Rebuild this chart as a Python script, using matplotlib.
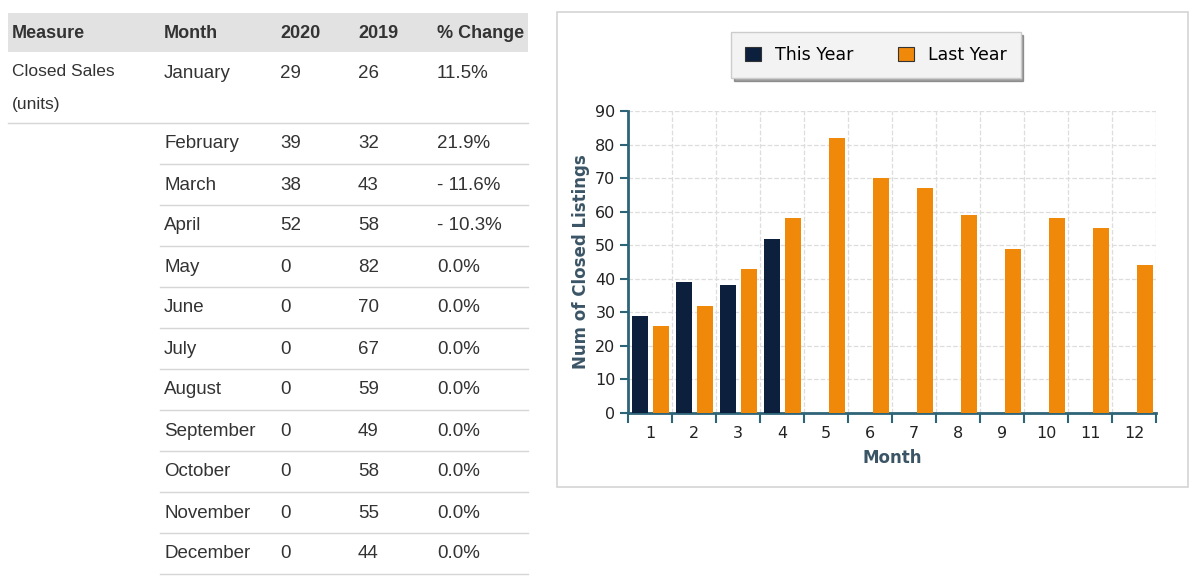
import matplotlib.pyplot as plt
from matplotlib.patches import Rectangle
from matplotlib.lines import Line2D

# Datos
meses = ["January", "February", "March", "April", "May", "June", "July",
         "August", "September", "October", "November", "December"]
num_mes = list(range(1, 13))
ventas_2020 = [29, 39, 38, 52, 0, 0, 0, 0, 0, 0, 0, 0]
ventas_2019 = [26, 32, 43, 58, 82, 70, 67, 59, 49, 58, 55, 44]
cambio = ["11.5%", "21.9%", "- 11.6%", "- 10.3%", "0.0%", "0.0%", "0.0%",
          "0.0%", "0.0%", "0.0%", "0.0%", "0.0%"]
encabezados = ["Measure", "Month", "2020", "2019", "% Change"]

W, H = 1200, 586
fig = plt.figure(figsize=(12, 5.86), dpi=100)

# ======================
# Tabla (coordenadas en pixeles)
# ======================
tab = fig.add_axes([0, 0, 1, 1])
tab.set_xlim(0, W)
tab.set_ylim(H, 0)
tab.axis("off")

fuente_tabla = ["Liberation Sans", "DejaVu Sans"]
col_x = [12, 164, 280, 358, 437]
tab.add_patch(Rectangle((8, 13), 520, 39, facecolor="#e2e2e2", edgecolor="none"))
for x, txt in zip(col_x, encabezados):
    tab.text(x, 33, txt, fontsize=13, fontweight="bold", color="#333333",
             va="center", ha="left", family=fuente_tabla)

tab.text(col_x[0], 72, "Closed Sales", fontsize=12.5, color="#333333",
         va="center", family=fuente_tabla)
tab.text(col_x[0], 105, "(units)", fontsize=12.5, color="#333333",
         va="center", family=fuente_tabla)

fila_y = [74] + [144 + 41 * i for i in range(11)]
for i, y in enumerate(fila_y):
    valores = [meses[i], str(ventas_2020[i]), str(ventas_2019[i]), cambio[i]]
    for x, txt in zip(col_x[1:], valores):
        tab.text(x, y, txt, fontsize=13.5, color="#333333", va="center",
                 ha="left", family=fuente_tabla)
    y_linea = 123 + 41 * i
    x0 = 8 if i == 0 else 160
    tab.add_line(Line2D([x0, 528], [y_linea, y_linea], color="#d6d6d6", lw=1))

# marco del grafico
tab.add_patch(Rectangle((557, 12), 631, 475, facecolor="white",
                        edgecolor="#d4d4d4", lw=1.2))

# ======================
# Grafico de barras
# ======================
ax = fig.add_axes([628 / W, 1 - 413 / H, 528 / W, 302 / H])
azul = "#0c1f3d"
naranja = "#f0890a"
ancho = 0.37
ax.bar([m - 0.23 for m in num_mes], ventas_2020, width=ancho, color=azul,
       label="This Year", zorder=3)
ax.bar([m + 0.25 for m in num_mes], ventas_2019, width=ancho, color=naranja,
       label="Last Year", zorder=3)

ax.set_xlim(0.5, 12.5)
ax.set_ylim(0, 90)
ax.set_yticks(range(0, 91, 10))
ax.set_xticks([m + 0.5 for m in range(0, 13)])
ax.set_xticklabels([])
ax.set_xticks(num_mes, minor=True)
ax.set_xticklabels([str(m) for m in num_mes], minor=True)

color_eje = "#2e6478"
for lado in ["top", "right"]:
    ax.spines[lado].set_visible(False)
ax.spines["left"].set_color(color_eje)
ax.spines["bottom"].set_color(color_eje)
ax.spines["left"].set_linewidth(2)
ax.spines["bottom"].set_linewidth(2)
ax.tick_params(axis="y", length=6, width=1.5, color=color_eje,
               labelsize=11.5, labelcolor="#222222", pad=3)
ax.tick_params(axis="x", which="major", length=7, width=1.5, color=color_eje)
ax.tick_params(axis="x", which="minor", length=0, labelsize=11.5,
               labelcolor="#222222", pad=9)
ax.grid(True, which="major", color="#dddddd", linestyle="--", lw=0.9, zorder=0)

ax.set_xlabel("Month", fontsize=12, fontweight="bold", color="#3b5566",
              labelpad=6)
ax.set_ylabel("Num of Closed Listings", fontsize=12, fontweight="bold",
              color="#3b5566", labelpad=4)

leg = fig.legend(loc="center", bbox_to_anchor=(876 / W, 1 - 55 / H), ncol=2,
                 fontsize=12.5, frameon=True, fancybox=False, shadow=True,
                 facecolor="#f3f3f3", edgecolor="#cccccc", handlelength=0.9,
                 handleheight=0.9, columnspacing=2.6, borderpad=0.8,
                 handletextpad=0.8, borderaxespad=0)
leg.get_frame().set_width(304)
for h in leg.legend_handles:
    h.set_edgecolor("#333333")
    h.set_linewidth(0.8)

plt.savefig("out.png", dpi=100)
